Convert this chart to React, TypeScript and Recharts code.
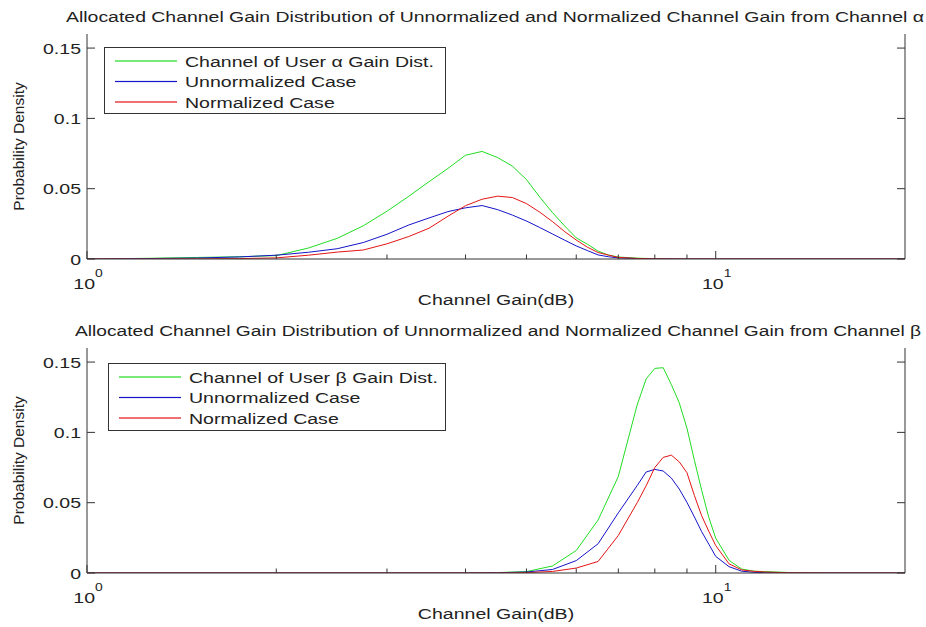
import React from 'react';
import { LineChart, Line, XAxis, YAxis, Legend } from 'recharts';

// ---------- data ----------
const gainTop = [1, 1.25, 1.5, 1.75, 2, 2.25, 2.5, 2.75, 3, 3.25, 3.5, 3.75, 4, 4.25, 4.5, 4.75, 5, 5.25, 5.5, 5.75, 6, 6.25, 6.5, 6.75, 7, 7.5, 8, 9, 10, 12, 15, 20];
const distAlpha = [0, 0.0005, 0.0011, 0.0016, 0.0024, 0.0078, 0.0147, 0.0236, 0.034, 0.0446, 0.055, 0.0644, 0.0738, 0.0765, 0.0721, 0.066, 0.0565, 0.044, 0.033, 0.0235, 0.015, 0.0105, 0.0056, 0.0028, 0.0014, 0.0006, 0.0002, 0, 0, 0, 0, 0];
const unnormAlpha = [0, 0.0003, 0.0007, 0.0015, 0.0027, 0.0048, 0.0073, 0.0117, 0.0176, 0.0242, 0.0292, 0.0337, 0.0364, 0.038, 0.0351, 0.0312, 0.027, 0.0224, 0.0178, 0.0134, 0.0093, 0.006, 0.0029, 0.0016, 0.0008, 0.0003, 0.0001, 0, 0, 0, 0, 0];
const normAlpha = [0, 0, 0.0001, 0.0003, 0.0008, 0.0027, 0.0049, 0.0064, 0.0108, 0.016, 0.0219, 0.0304, 0.0379, 0.0425, 0.0447, 0.0437, 0.0394, 0.0333, 0.0266, 0.0195, 0.0135, 0.0084, 0.0046, 0.0028, 0.0011, 0.0004, 0.0001, 0, 0, 0, 0, 0];

const gainBottom = [1, 2, 3, 4, 4.5, 5, 5.5, 6, 6.5, 7, 7.5, 7.75, 8, 8.25, 8.5, 8.75, 9, 9.25, 9.5, 9.75, 10, 10.5, 11, 11.5, 12, 13, 15, 20];
const distBeta = [0, 0, 0, 0, 0.0003, 0.001, 0.005, 0.016, 0.0377, 0.0687, 0.1196, 0.138, 0.1455, 0.146, 0.134, 0.121, 0.103, 0.08, 0.0587, 0.0395, 0.0248, 0.009, 0.0028, 0.0013, 0.001, 0.0004, 0, 0];
const unnormBeta = [0, 0, 0, 0, 0.0002, 0.0007, 0.0025, 0.0088, 0.0208, 0.0428, 0.0622, 0.0718, 0.0737, 0.0725, 0.0675, 0.0597, 0.0502, 0.0398, 0.0293, 0.0205, 0.0118, 0.0045, 0.0013, 0.0005, 0.0002, 0, 0, 0];
const normBeta = [0, 0, 0, 0, 0, 0.0003, 0.0011, 0.0035, 0.0082, 0.0267, 0.05, 0.062, 0.075, 0.0822, 0.0838, 0.079, 0.0713, 0.055, 0.0406, 0.0296, 0.0195, 0.0065, 0.0022, 0.0012, 0.0007, 0.0002, 0, 0];

const xTicks = [1, 2, 3, 4, 5, 6, 7, 8, 9, 10];
const xMajor: Record<number, string> = { 1: '0', 10: '1' };
const yTicks = [0, 0.05, 0.1, 0.15];
const yTickLabels = ['0', '0.05', '0.1', '0.15'];

const legendAlpha = ['Channel of User \u03B1 Gain Dist.', 'Unnormalized Case', 'Normalized Case'];
const legendBeta = ['Channel of User \u03B2 Gain Dist.', 'Unnormalized Case', 'Normalized Case'];
const titleAlpha = 'Allocated Channel Gain Distribution of Unnormalized and Normalized Channel Gain from Channel \u03B1';
const titleBeta = 'Allocated Channel Gain Distribution of Unnormalized and Normalized Channel Gain from Channel \u03B2';
const xLabel = 'Channel Gain(dB)';
const yLabel = 'Probability Density';

// ---------- style ----------
const FONT = "'Liberation Sans', Arial, sans-serif";
const FS = 15.5;
const SX = 1.26;
const AX = '#333';
const TXT = '#222';
const GREEN = '#22dd22';
const BLUE = '#1414c8';
const RED = '#e41414';
const COLORS = [GREEN, BLUE, RED];

function STxt({ x, y, anchor = 'start', size = FS, children }: any) {
  return (
    <text
      transform={`translate(${x},${y}) scale(${SX},1)`}
      x={0}
      y={0}
      textAnchor={anchor}
      fontSize={size}
      fontFamily={FONT}
      fill={TXT}
    >
      {children}
    </text>
  );
}

function BottomTick(p: any) {
  const { x, y, payload } = p;
  const exp = xMajor[payload.value];
  const len = exp !== undefined ? 8 : 4.5;
  return (
    <g>
      <line x1={x} x2={x} y1={y} y2={y - len} stroke={AX} strokeWidth={1} />
      {exp !== undefined && (
        <g>
          <STxt x={x + 8} y={y + 30} anchor="end">10</STxt>
          <STxt x={x + 8} y={y + 18} size={11}>{exp}</STxt>
        </g>
      )}
    </g>
  );
}

function TopTick(p: any) {
  const { x, y, payload } = p;
  const len = xMajor[payload.value] !== undefined ? 8 : 4.5;
  return <line x1={x} x2={x} y1={y} y2={y + len} stroke={AX} strokeWidth={1} />;
}

function LeftTick(p: any) {
  const { x, y, payload } = p;
  const idx = yTicks.indexOf(payload.value);
  return (
    <g>
      <line x1={x} x2={x + 8} y1={y} y2={y} stroke={AX} strokeWidth={1} />
      <STxt x={x - 6} y={y + 5.5} anchor="end">{yTickLabels[idx]}</STxt>
    </g>
  );
}

function RightTick(p: any) {
  const { x, y } = p;
  return <line x1={x} x2={x - 8} y1={y} y2={y} stroke={AX} strokeWidth={1} />;
}

function LegendBox({ names, w, h }: any) {
  const rows = [14, 34.5, 55];
  return (
    <svg width={w} height={h} style={{ display: 'block', background: '#fff' }}>
      <rect x={0.5} y={0.5} width={w - 1} height={h - 1} fill="#fff" stroke={AX} strokeWidth={1} />
      {names.map((n: string, i: number) => (
        <g key={n + i}>
          <rect x={11} y={rows[i] - 0.6} width={62} height={1.2} fill={COLORS[i]} />
          <STxt x={81} y={rows[i] + 5.5}>{n}</STxt>
        </g>
      ))}
    </svg>
  );
}

function Panel({ gains, g, b, r, names, top, leg }: any) {
  const rows = gains.map((x: number, i: number) => ({ x, g: g[i], b: b[i], r: r[i] }));
  const common = { isAnimationActive: false, dot: false, strokeWidth: 1, type: 'linear' as const, xAxisId: 'b', yAxisId: 'l', activeDot: false };
  return (
    <div style={{ position: 'absolute', left: 0, top }}>
      <LineChart width={926} height={313} data={rows} margin={{ top: 34, right: 0, bottom: 0, left: 0 }}>
        <XAxis xAxisId="b" dataKey="x" type="number" scale="log" domain={[1, 20]} allowDataOverflow ticks={xTicks} interval={0}
          tickSize={0} tickMargin={0} tickLine={false} height={54} axisLine={{ stroke: AX }} tick={(p: any) => <BottomTick {...p} />} />
        <XAxis xAxisId="t" orientation="top" dataKey="x" type="number" scale="log" domain={[1, 20]} allowDataOverflow ticks={xTicks} interval={0}
          tickSize={0} tickMargin={0} tickLine={false} height={0} axisLine={{ stroke: AX }} tick={(p: any) => <TopTick {...p} />} />
        <YAxis yAxisId="l" type="number" domain={[0, 0.16]} allowDataOverflow ticks={yTicks} interval={0} width={87}
          tickSize={0} tickMargin={0} tickLine={false} axisLine={{ stroke: AX }} tick={(p: any) => <LeftTick {...p} />} />
        <YAxis yAxisId="rr" orientation="right" type="number" domain={[0, 0.16]} allowDataOverflow ticks={yTicks} interval={0} width={21}
          tickSize={0} tickMargin={0} tickLine={false} axisLine={{ stroke: AX }} tick={(p: any) => <RightTick {...p} />} />
        <Legend layout="vertical" align="center" verticalAlign="middle"
          wrapperStyle={{ left: leg.left, top: leg.top, width: leg.w, height: leg.h, margin: 0, padding: 0 }}
          content={() => <LegendBox names={names} w={leg.w} h={leg.h} />} />
        <Line {...common} dataKey="g" name={names[0]} stroke={GREEN} />
        <Line {...common} dataKey="b" name={names[1]} stroke={BLUE} />
        <Line {...common} dataKey="r" name={names[2]} stroke={RED} />
      </LineChart>
    </div>
  );
}

function Labels({ title, offset, tw, tc }: any) {
  return (
    <g>
      <text x={tc} y={22 + offset} textAnchor="middle" fontSize={FS} fontFamily={FONT} fill={TXT}
        textLength={tw} lengthAdjust="spacingAndGlyphs">{title}</text>
      <STxt x={496} y={305 + offset} anchor="middle">{xLabel}</STxt>
      <text transform={`translate(23.5,${146.5 + offset}) rotate(-90)`} textAnchor="middle" fontSize={FS} fontFamily={FONT} fill={TXT}>
        {yLabel}
      </text>
    </g>
  );
}

export default function App() {
  return (
    <div style={{ position: 'absolute', left: 0, top: 0, width: 926, height: 627, background: '#fff', overflow: 'hidden' }}>
      <Panel gains={gainTop} g={distAlpha} b={unnormAlpha} r={normAlpha} names={legendAlpha} top={0}
        leg={{ left: 104, top: 47, w: 342, h: 67 }} />
      <Panel gains={gainBottom} g={distBeta} b={unnormBeta} r={normBeta} names={legendBeta} top={314}
        leg={{ left: 108, top: 49, w: 338, h: 68 }} />
      <svg width={926} height={627} style={{ position: 'absolute', left: 0, top: 0, pointerEvents: 'none' }}>
        <Labels title={titleAlpha} offset={0} tw={858} tc={495} />
        <Labels title={titleBeta} offset={314} tw={846} tc={498} />
      </svg>
    </div>
  );
}
